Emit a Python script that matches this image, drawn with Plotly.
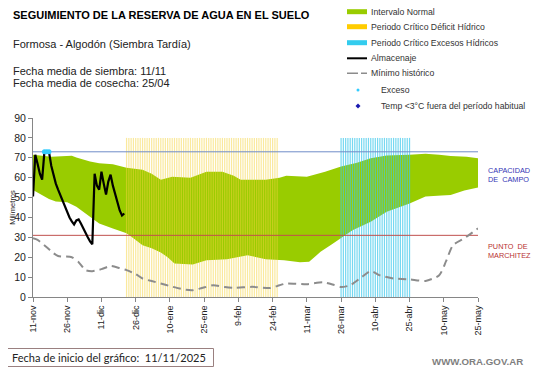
import plotly.graph_objects as go

# ---------------- data ----------------
# days since start date (11/11/2025)
tick_days = [0, 15, 30, 45, 60, 75, 90, 105, 120, 135, 150, 165, 180, 195]
tick_labels = ["11-nov", "26-nov", "11-dic", "26-dic", "10-ene", "25-ene", "9-feb",
               "24-feb", "11-mar", "26-mar", "10-abr", "25-abr", "10-may", "25-may"]

upper_days = [0, 8, 17, 19, 25, 29, 35, 41, 48, 52, 56, 61, 69, 76, 83, 88, 91, 102, 108,
              111, 120, 128, 135, 142, 148, 155, 165, 172, 178, 183, 190, 195]
upper_vals = [71.5, 70.5, 71, 70.1, 68.1, 67.3, 66.8, 65, 64, 62, 59, 60.5, 60, 63, 63, 61, 59, 59, 60,
              61, 60.5, 63, 65.6, 67.5, 69.8, 71.1, 71.5, 72, 71.5, 70.9, 70.5, 69.8]

lower_days = [0, 4, 7, 10, 15, 19, 24, 29, 35, 41, 44, 48, 52, 56, 59, 62, 70, 76, 85, 90, 94, 98,
              102, 110, 117, 121, 126, 131, 135, 140, 148, 155, 165, 172, 179, 183, 189, 195]
lower_vals = [53.8, 51, 49.3, 48, 47.6, 45.4, 41, 37, 34.5, 32, 29.5, 26, 24.5, 22.4, 20, 16.8, 16.3, 18.5,
              19, 20, 21, 20, 19, 18.5, 17.5, 17.7, 22.7, 26.5, 29.5, 33.6, 37.8, 42.9, 47, 50.5, 51, 51.3,
              53.5, 55]

min_days = [0, 2, 6, 9, 11, 17, 20, 23, 26, 30, 34, 38, 41, 45, 48, 52, 56, 60, 63, 67, 70, 74, 79,
            84, 88, 96, 104, 108, 111, 120, 127, 132, 135, 139, 144, 148, 152, 158, 165, 172, 178,
            181, 184, 189, 195]
min_vals = [29.5, 28.7, 25, 22, 20.6, 20, 17.5, 13.5, 13, 14, 15.6, 14.5, 13.5, 11.5, 9.3, 8, 6.8, 5.5,
            4.6, 3.6, 3.4, 4.5, 5.9, 5, 4.6, 5.1, 4.5, 5.9, 6.8, 6.4, 7.4, 6, 5, 5.9, 10, 13.1, 10.9,
            9.3, 8.9, 8.1, 10.9, 18, 26, 29.5, 34.5]

alm_days = list(range(0, 41))
alm_vals = [50.5, 71.5, 67, 62, 59, 73, 73, 73, 66, 61, 57, 54, 51, 48, 45, 42.5, 40, 38, 36.5, 38.5,
            39, 37, 34.5, 32, 30, 28, 26.5, 62, 56, 54, 63, 57, 51.5, 58, 61.5, 56, 51.5, 47, 43.5, 41, 42]

exceso_days = [5, 6, 7]
exceso_vals = [73, 73, 73]

deficit_days = list(range(41, 108))
excesos_days = list(range(135, 166))
period_top = 80

capacidad_campo = 73
punto_marchitez = 31
x_range = [0, 195]

# ---------------- layout helpers ----------------
# page body has an 8px margin, so the figure is sized to fit the window
OFF = 8
W, H = 541 - OFF, 368 - OFF
L, R, T, B = 33, 478, 118, 297   # plot area in window pixels


def xp(px):
    return (px - L) / (R - L)


def yp(py):
    return (B - py) / (B - T)


FONT = "Arial, Liberation Sans, sans-serif"
GREEN = "#99CC00"

fig = go.Figure()

# normal interval (green band)
fig.add_trace(go.Scatter(x=lower_days, y=lower_vals, mode="lines", line=dict(width=0, color=GREEN),
                         showlegend=False, hoverinfo="skip"))
fig.add_trace(go.Scatter(x=upper_days, y=upper_vals, mode="lines", line=dict(width=0, color=GREEN),
                         fill="tonexty", fillcolor=GREEN, showlegend=False))


def stripes(days, top):
    xs, ys = [], []
    for d in days:
        xs += [d, d, None]
        ys += [0, top, None]
    return xs, ys


sx, sy = stripes(deficit_days, period_top)
fig.add_trace(go.Scatter(x=sx, y=sy, mode="lines", line=dict(width=1.2, color="rgba(245,212,60,0.5)"),
                         showlegend=False, hoverinfo="skip"))
sx, sy = stripes(excesos_days, period_top)
fig.add_trace(go.Scatter(x=sx, y=sy, mode="lines", line=dict(width=1.2, color="rgba(60,200,235,0.7)"),
                         showlegend=False, hoverinfo="skip"))

# reference lines
fig.add_trace(go.Scatter(x=x_range, y=[capacidad_campo] * 2, mode="lines",
                         line=dict(width=1, color="#6F8CC8"), showlegend=False))
fig.add_trace(go.Scatter(x=x_range, y=[punto_marchitez] * 2, mode="lines",
                         line=dict(width=1, color="#C0504D"), showlegend=False))

# historical minimum
fig.add_trace(go.Scatter(x=min_days, y=min_vals, mode="lines",
                         line=dict(width=2, color="#8C8C8C", dash="8px,5px", shape="spline", smoothing=0.6),
                         showlegend=False))

# storage
fig.add_trace(go.Scatter(x=alm_days, y=alm_vals, mode="lines", line=dict(width=2.2, color="black"),
                         showlegend=False))
fig.add_trace(go.Scatter(x=exceso_days, y=exceso_vals, mode="markers",
                         marker=dict(size=5, color="#33CCFF"), showlegend=False))

# ---------------- manual legend ----------------
shapes = []
ann = []
leg_items = [
    ("Intervalo Normal", 11.7, dict(type="bar", color=GREEN)),
    ("Periodo Crítico Déficit Hídrico", 26.7, dict(type="bar", color="#FFCC00")),
    ("Periodo Crítico Excesos Hídricos", 42.7, dict(type="bar", color="#33CCEE")),
    ("Almacenaje", 58.3, dict(type="line", color="black")),
    ("Mínimo histórico", 73.3, dict(type="dash", color="#8C8C8C")),
    ("Exceso", 90, dict(type="dot", color="#33CCFF")),
    ("Temp <3°C fuera del período habitual", 106, dict(type="diamond", color="#1A1AB0")),
]
for text, py, s in leg_items:
    tx = 369
    if s["type"] == "bar":
        shapes.append(dict(type="line", xref="paper", yref="paper", x0=xp(347), x1=xp(367),
                           y0=yp(py), y1=yp(py), line=dict(color=s["color"], width=5)))
    elif s["type"] == "line":
        shapes.append(dict(type="line", xref="paper", yref="paper", x0=xp(347), x1=xp(367),
                           y0=yp(py), y1=yp(py), line=dict(color=s["color"], width=2)))
    elif s["type"] == "dash":
        shapes.append(dict(type="line", xref="paper", yref="paper", x0=xp(347), x1=xp(367),
                           y0=yp(py), y1=yp(py), line=dict(color=s["color"], width=1.5, dash="11px,3px")))
    elif s["type"] == "dot":
        tx = 379
        shapes.append(dict(type="circle", xref="paper", yref="paper", x0=xp(356.5), x1=xp(359.5),
                           y0=yp(py + 1.5), y1=yp(py - 1.5), line=dict(width=0), fillcolor=s["color"]))
    elif s["type"] == "diamond":
        tx = 379
        cx, cy = xp(358), yp(py)
        dx, dy = 2.5 / (R - L), 2.5 / (B - T)
        shapes.append(dict(type="path", xref="paper", yref="paper",
                           path=f"M {cx-dx} {cy} L {cx} {cy+dy} L {cx+dx} {cy} L {cx} {cy-dy} Z",
                           line=dict(width=0), fillcolor=s["color"]))
    ann.append(dict(text=text, x=xp(tx), y=yp(py), xref="paper", yref="paper", xanchor="left",
                    yanchor="middle", showarrow=False, font=dict(family=FONT, size=8.7, color="#333333")))

# ---------------- texts ----------------
ann += [
    dict(text="<b>SEGUIMIENTO DE LA RESERVA DE AGUA EN EL SUELO</b>", x=xp(11), y=yp(15),
         font=dict(family=FONT, size=11, color="black")),
    dict(text="Formosa - Algodón (Siembra Tardía)", x=xp(11), y=yp(44),
         font=dict(family=FONT, size=11, color="#222222")),
    dict(text="Fecha media de siembra: 11/11", x=xp(11), y=yp(70.5),
         font=dict(family=FONT, size=11, color="#222222")),
    dict(text="Fecha media de cosecha: 25/04", x=xp(11), y=yp(82.5),
         font=dict(family=FONT, size=11, color="#222222")),
    dict(text="CAPACIDAD<br>DE  CAMPO", x=xp(486), y=yp(174.5),
         font=dict(family=FONT, size=7.3, color="#3535B5")),
    dict(text="PUNTO  DE<br>MARCHITEZ", x=xp(486), y=yp(251),
         font=dict(family=FONT, size=7.3, color="#B83232")),
    dict(text="Fecha de inicio del gráfico:  11/11/2025", x=xp(9.5), y=yp(357.5),
         font=dict(family="Lato, Open Sans, sans-serif", size=11, color="#222222")),
    dict(text="<b>WWW.ORA.GOV.AR</b>", x=xp(430), y=yp(361.5),
         font=dict(family=FONT, size=9.7, color="#7F7F7F")),
]
for a in ann[-8:]:
    a.update(xref="paper", yref="paper", xanchor="left", yanchor="middle", showarrow=False, align="left")

shapes.append(dict(type="rect", xref="paper", yref="paper", x0=xp(3.5), x1=xp(213.5),
                   y0=yp(366.5), y1=yp(348.5), line=dict(color="#9A8080", width=1)))

fig.update_layout(
    width=W, height=H,
    margin=dict(l=L - OFF, r=541 - R, t=T - OFF, b=368 - B, pad=0),
    paper_bgcolor="white", plot_bgcolor="white",
    showlegend=False,
    shapes=shapes, annotations=ann,
    font=dict(family=FONT, color="#222222"),
)
fig.update_xaxes(range=x_range, tickvals=tick_days, ticktext=tick_labels, tickangle=-90,
                 tickfont=dict(family=FONT, size=9, color="#222222"),
                 showline=True, linecolor="#868686", linewidth=1, ticks="outside", ticklen=4,
                 tickcolor="#868686", showgrid=False, zeroline=False, automargin=False)
fig.update_yaxes(range=[0, 90], tickvals=list(range(0, 91, 10)),
                 tickfont=dict(family=FONT, size=10.5, color="#222222"),
                 showline=True, linecolor="#868686", linewidth=1, ticks="outside", ticklen=4,
                 tickcolor="#868686", showgrid=False, zeroline=False, automargin=False,
                 title=dict(text="Milímetros", font=dict(family=FONT, size=7.5, color="#222222"),
                            standoff=2))

fig.write_html("out.html")
